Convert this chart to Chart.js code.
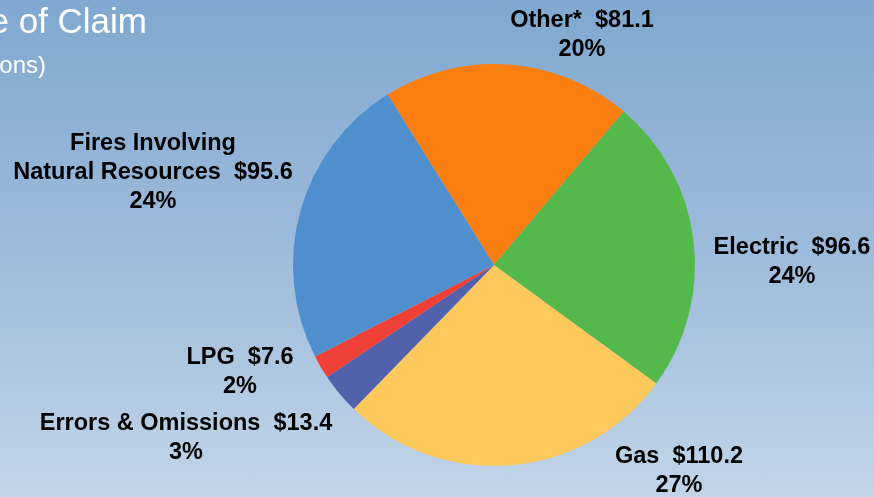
<!DOCTYPE html>
<html>
<head>
<meta charset="utf-8">
<script src="https://cdn.jsdelivr.net/npm/chart.js@4/dist/chart.umd.min.js"></script>
<style>
  html, body { margin: 0; padding: 0; }
  body {
    width: 874px; height: 497px; overflow: hidden;
    background: linear-gradient(to bottom, #80a8d0 0%, #9dbbdb 50%, #c1d5e8 100%);
  }
  canvas { display: block; }
</style>
</head>
<body>
<canvas id="claimChart" width="874" height="497"></canvas>
<script>
// Veriler - ekrandan okunan değerler ($ milyon)
const categories = ['Other*', 'Electric', 'Gas', 'Errors & Omissions', 'LPG', 'Fires Involving Natural Resources'];
const values = [81.1, 96.6, 110.2, 13.4, 7.6, 95.6];
const pctLabels = ['20%', '24%', '27%', '3%', '2%', '24%'];
const sliceColors = ['#fb7f10', '#55b84b', '#fec95c', '#5261ab', '#ef4138', '#4f8fcd'];

// Etiketlerin satırları ve konumları
const labelLines = [
    ['Other*  $81.1'],
    ['Electric  $96.6'],
    ['Gas  $110.2'],
    ['Errors & Omissions  $13.4'],
    ['LPG  $7.6'],
    ['Fires Involving', 'Natural Resources  $95.6']
];
const labelPos = [
    [582, 21], [792, 248], [679, 457], [186, 424], [240, 358], [153, 144]
];

// Başlık ve etiket çizimi
const labelPlugin = {
    id: 'labels',
    afterDraw(chart) {
        const ctx = chart.ctx;
        ctx.save();
        ctx.fillStyle = '#ffffff';
        ctx.textAlign = 'right';
        ctx.textBaseline = 'alphabetic';
        ctx.font = '35px "Liberation Sans", Arial, sans-serif';
        ctx.fillText('Type of Claim', 147, 33);
        ctx.font = '24px "Liberation Sans", Arial, sans-serif';
        ctx.fillText('($ in millions)', 46, 73);

        ctx.fillStyle = '#000000';
        ctx.textAlign = 'center';
        ctx.textBaseline = 'middle';
        ctx.font = 'bold 23.5px "Liberation Sans", Arial, sans-serif';
        labelLines.forEach((lines, i) => {
            const [x, y] = labelPos[i];
            const all = lines.concat([pctLabels[i]]);
            all.forEach((t, j) => ctx.fillText(t, x, y + j * 29));
        });
        ctx.restore();
    }
};

new Chart(document.getElementById('claimChart'), {
    type: 'pie',
    data: {
        labels: categories,
        datasets: [{
            data: values,
            backgroundColor: sliceColors,
            borderWidth: 0
        }]
    },
    options: {
        responsive: false,
        animation: false,
        rotation: -32,
        layout: { padding: { top: 64, bottom: 31, left: 293, right: 179 } },
        plugins: {
            legend: { display: false },
            tooltip: { enabled: false }
        }
    },
    plugins: [labelPlugin]
});
</script>
</body>
</html>
